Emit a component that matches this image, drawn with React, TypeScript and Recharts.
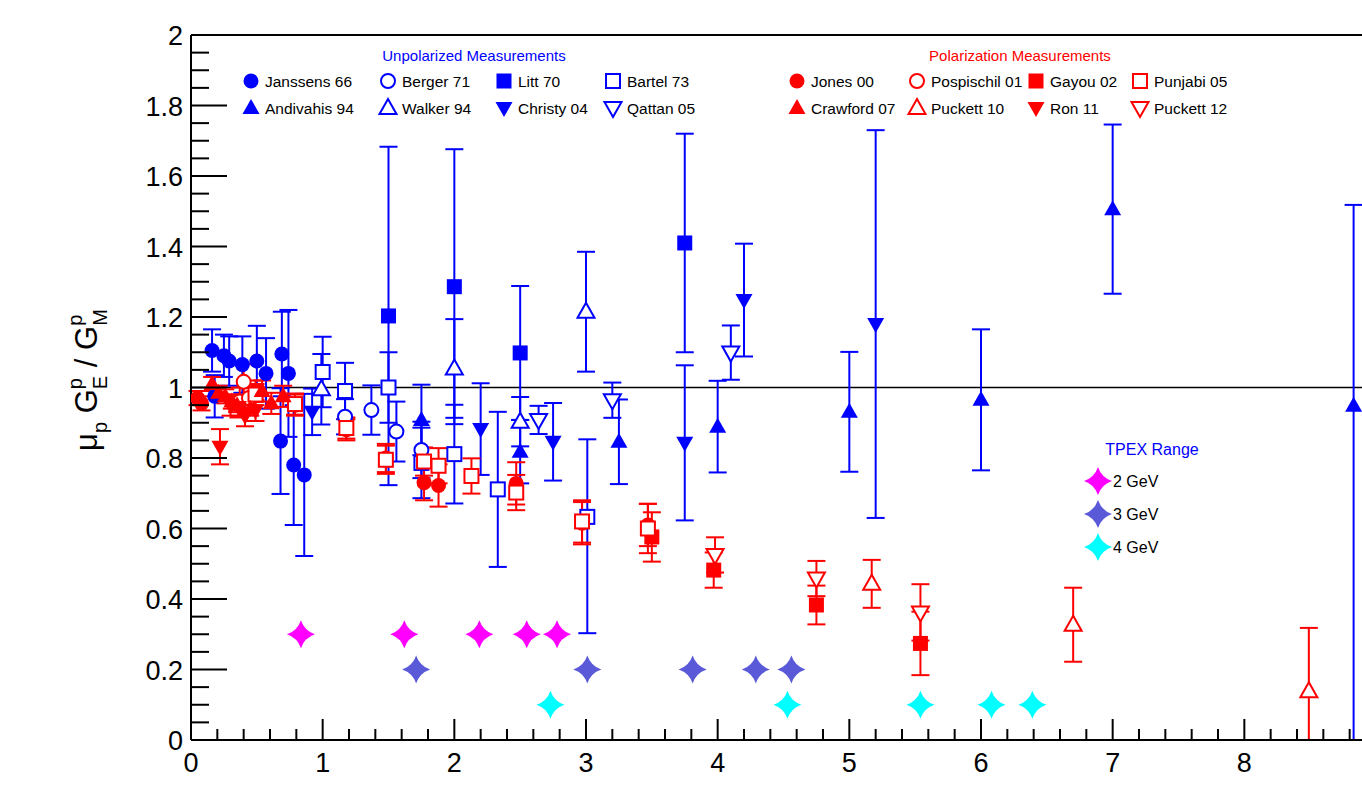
import React from 'react';
import { ScatterChart, Scatter, XAxis, YAxis, ErrorBar, ReferenceLine } from 'recharts';

// [Q2, ratio, error]  (error may be [down, up])
const janssens66 = [
  [0.16, 1.105, 0.06], [0.18, 0.975, 0.06], [0.25, 1.09, 0.06], [0.29, 1.075, 0.07],
  [0.39, 1.065, 0.08], [0.5, 1.075, 0.1], [0.57, 1.04, 0.1], [0.69, 1.095, 0.12],
  [0.74, 1.04, 0.18], [0.68, 0.848, 0.15], [0.78, 0.78, 0.17], [0.86, 0.752, 0.23],
];
const berger71 = [[1.17, 0.917, 0.05], [1.37, 0.936, 0.07], [1.56, 0.875, 0.085], [1.75, 0.823, 0.08]];
const litt70 = [[1.5, 1.203, 0.48], [2.0, 1.286, 0.39], [2.5, 1.098, 0.19], [3.75, 1.41, 0.31]];
const bartel73 = [
  [1.0, 1.044, 0.1], [1.17, 0.99, 0.08], [1.5, 1.0, 0.1], [1.75, 0.786, 0.1],
  [2.0, 0.811, 0.14], [2.33, 0.711, 0.22], [3.01, 0.633, [0.33, 0.22]],
];
const andivahis94 = [
  [1.75, 0.908, 0.1], [2.5, 0.818, 0.09], [3.25, 0.846, 0.12], [4.0, 0.889, 0.13],
  [5.0, 0.931, 0.17], [6.0, 0.965, 0.2], [7.0, 1.506, 0.24], [8.83, 0.948, [0.948, 0.57]],
];
const walker94 = [[0.99, 0.995, 0.1], [2.0, 1.054, 0.14], [2.5, 0.903, 0.07], [3.0, 1.215, 0.17]];
const christy04 = [
  [0.92, 0.931, 0.066], [2.2, 0.882, 0.13], [2.75, 0.846, 0.11],
  [3.75, 0.843, 0.22], [4.2, 1.248, 0.16], [5.2, 1.18, 0.55],
];
const qattan05 = [[2.64, 0.908, 0.04], [3.2, 0.964, 0.05], [4.1, 1.099, 0.077]];

const jones00 = [
  [0.05, 0.97, 0.02], [0.08, 0.955, 0.02], [0.49, 0.99, 0.03], [0.79, 0.95, 0.03],
  [1.18, 0.88, 0.03], [1.48, 0.8, 0.04], [1.77, 0.73, 0.05], [1.88, 0.722, 0.06],
  [2.47, 0.728, 0.06], [2.97, 0.615, 0.06], [3.47, 0.61, 0.06],
];
const pospischil01 = [[0.37, 0.96, 0.04], [0.4, 1.016, 0.05], [0.44, 0.97, 0.04]];
const gayou02 = [[3.5, 0.576, 0.07], [3.97, 0.482, 0.05], [4.75, 0.383, 0.055], [5.54, 0.274, 0.09]];
const punjabi05 = [
  [0.49, 0.98, 0.03], [0.79, 0.953, 0.03], [1.18, 0.885, 0.03], [1.48, 0.795, 0.04],
  [1.77, 0.79, 0.04], [1.88, 0.778, 0.05], [2.13, 0.749, 0.05], [2.47, 0.702, 0.05],
  [2.97, 0.62, 0.06], [3.47, 0.6, 0.07],
];
const crawford07 = [
  [0.16, 1.01, 0.02], [0.21, 0.985, 0.02], [0.26, 0.975, 0.02], [0.31, 0.96, 0.02],
  [0.35, 0.95, 0.02], [0.45, 0.94, 0.02], [0.54, 0.99, 0.03], [0.61, 0.955, 0.03], [0.7, 0.975, 0.03],
];
const ron11 = [[0.22, 0.832, 0.05], [0.3, 0.95, 0.03], [0.36, 0.945, 0.03], [0.41, 0.92, 0.03], [0.49, 0.935, 0.03]];
const puckett10 = [[5.17, 0.443, 0.068], [6.7, 0.327, 0.105], [8.49, 0.138, [0.138, 0.18]]];
const puckett12 = [[3.98, 0.525, 0.05], [4.75, 0.458, 0.05], [5.54, 0.362, 0.08]];

// TPEX range points [Q2, level]
const tpex2 = [[0.835, 0.3], [1.62, 0.3], [2.19, 0.3], [2.55, 0.3], [2.78, 0.3]];
const tpex3 = [[1.71, 0.2], [3.01, 0.2], [3.81, 0.2], [4.29, 0.2], [4.56, 0.2]];
const tpex4 = [[2.73, 0.1], [4.53, 0.1], [5.54, 0.1], [6.08, 0.1], [6.39, 0.1]];

const xMajor = [0, 1, 2, 3, 4, 5, 6, 7, 8, 9];
const yMajor = [0, 0.2, 0.4, 0.6, 0.8, 1, 1.2, 1.4, 1.6, 1.8, 2];

const BLUE = '#0000ff';
const RED = '#ff0000';
const FONT = '"Liberation Sans", Arial, Helvetica, sans-serif';

// minor ticks between the labelled ones (the 9 is off the picture)
const xTicks: number[] = [];
xMajor.slice(0, -1).forEach((m) => [0, 0.2, 0.4, 0.6, 0.8].forEach((f) => xTicks.push(Math.round((m + f) * 100) / 100)));
const yTicks: number[] = [];
yMajor.slice(0, -1).forEach((m) => [0, 0.05, 0.1, 0.15].forEach((f) => yTicks.push(Math.round((m + f) * 100) / 100)));
yTicks.push(2);

const series = [
  { name: 'Janssens 66', data: janssens66, color: BLUE, kind: 'circle' },
  { name: 'Berger 71', data: berger71, color: BLUE, kind: 'circleOpen' },
  { name: 'Litt 70', data: litt70, color: BLUE, kind: 'square' },
  { name: 'Bartel 73', data: bartel73, color: BLUE, kind: 'squareOpen' },
  { name: 'Andivahis 94', data: andivahis94, color: BLUE, kind: 'tri' },
  { name: 'Walker 94', data: walker94, color: BLUE, kind: 'triOpen' },
  { name: 'Christy 04', data: christy04, color: BLUE, kind: 'triDown' },
  { name: 'Qattan 05', data: qattan05, color: BLUE, kind: 'triDownOpen' },
  { name: 'Jones 00', data: jones00, color: RED, kind: 'circle' },
  { name: 'Pospischil 01', data: pospischil01, color: RED, kind: 'circleOpen' },
  { name: 'Gayou 02', data: gayou02, color: RED, kind: 'square' },
  { name: 'Punjabi 05', data: punjabi05, color: RED, kind: 'squareOpen' },
  { name: 'Crawford 07', data: crawford07, color: RED, kind: 'tri' },
  { name: 'Puckett 10', data: puckett10, color: RED, kind: 'triOpen' },
  { name: 'Ron 11', data: ron11, color: RED, kind: 'triDown' },
  { name: 'Puckett 12', data: puckett12, color: RED, kind: 'triDownOpen' },
];

const tpex = [
  { name: '2 GeV', data: tpex2, color: '#ff00ff' },
  { name: '3 GeV', data: tpex3, color: '#5a5ad8' },
  { name: '4 GeV', data: tpex4, color: '#00ffff' },
];

function Marker({ cx, cy, kind, color }: any) {
  if (cx == null || cy == null) return null;
  switch (kind) {
    case 'circle':
      return <circle cx={cx} cy={cy} r={7.5} fill={color} />;
    case 'circleOpen':
      return <circle cx={cx} cy={cy} r={7} fill="#fff" stroke={color} strokeWidth={2} />;
    case 'square':
      return <rect x={cx - 7.5} y={cy - 7.5} width={15} height={15} fill={color} />;
    case 'squareOpen':
      return <rect x={cx - 7} y={cy - 7} width={14} height={14} fill="#fff" stroke={color} strokeWidth={2} />;
    case 'tri':
      return <polygon points={`${cx},${cy - 9} ${cx + 8.5},${cy + 6} ${cx - 8.5},${cy + 6}`} fill={color} />;
    case 'triOpen':
      return <polygon points={`${cx},${cy - 9} ${cx + 8.5},${cy + 6} ${cx - 8.5},${cy + 6}`} fill="#fff" stroke={color} strokeWidth={2} />;
    case 'triDown':
      return <polygon points={`${cx},${cy + 9} ${cx + 8.5},${cy - 6} ${cx - 8.5},${cy - 6}`} fill={color} />;
    case 'triDownOpen':
      return <polygon points={`${cx},${cy + 9} ${cx + 8.5},${cy - 6} ${cx - 8.5},${cy - 6}`} fill="#fff" stroke={color} strokeWidth={2} />;
    case 'star': {
      const r = 14;
      const q = 3.5;
      const d = `M${cx},${cy - r} Q${cx + q},${cy - q} ${cx + r},${cy} Q${cx + q},${cy + q} ${cx},${cy + r} Q${cx - q},${cy + q} ${cx - r},${cy} Q${cx - q},${cy - q} ${cx},${cy - r} Z`;
      return <path d={d} fill={color} />;
    }
    default:
      return null;
  }
}

const XTick = ({ x, y, payload }: any) => {
  const v = payload.value;
  const major = Math.abs(v - Math.round(v)) < 1e-6;
  return (
    <g>
      <line x1={x} x2={x} y1={y} y2={y - (major ? 21 : 11)} stroke="#000" strokeWidth={2} />
      {major && (
        <text x={x} y={y + 32} textAnchor="middle" fontSize={27} fontFamily={FONT} fill="#000">
          {Math.round(v)}
        </text>
      )}
    </g>
  );
};

const YTick = ({ x, y, payload }: any) => {
  const v = payload.value;
  const major = Math.abs(v * 5 - Math.round(v * 5)) < 1e-6;
  return (
    <g>
      <line x1={x} x2={x + (major ? 36 : 18)} y1={y} y2={y} stroke="#000" strokeWidth={2} />
      {major && (
        <text x={x - 8} y={y + 10} textAnchor="end" fontSize={27} fontFamily={FONT} fill="#000">
          {String(Number(v.toFixed(1)))}
        </text>
      )}
    </g>
  );
};

const toRows = (arr: any[]) => arr.map((p) => ({ x: p[0], y: p[1], e: p[2] }));

function LegendLayer() {
  const cols = [251, 388, 504, 613];
  const colsPol = [797, 917, 1036, 1140];
  const rowY = [81, 108];
  const item = (s: any, mx: number, my: number, key: string) => (
    <g key={key}>
      <Marker cx={mx} cy={my} kind={s.kind} color={s.color} />
      <text x={mx + 14} y={my + 5.5} fontSize={15.5} fontFamily={FONT} fill="#000">
        {s.name}
      </text>
    </g>
  );
  const unpol = series.slice(0, 8);
  const pol = series.slice(8);
  return (
    <svg width={1362} height={790} style={{ position: 'absolute', left: 0, top: 0, pointerEvents: 'none' }}>
      <text x={474} y={61} textAnchor="middle" fontSize={15} fontFamily={FONT} fill={BLUE}>
        Unpolarized Measurements
      </text>
      <text x={1020} y={61} textAnchor="middle" fontSize={15} fontFamily={FONT} fill={RED}>
        Polarization Measurements
      </text>
      {unpol.map((s, i) => item(s, cols[i % 4], rowY[Math.floor(i / 4)], 'u' + i))}
      {pol.map((s, i) => item(s, colsPol[i % 4], rowY[Math.floor(i / 4)], 'p' + i))}
      <text x={1152} y={455} textAnchor="middle" fontSize={16} fontFamily={FONT} fill={BLUE}>
        TPEX Range
      </text>
      {tpex.map((t, i) => (
        <g key={t.name}>
          <Marker cx={1098} cy={481 + i * 33} kind="star" color={t.color} />
          <text x={1113} y={487 + i * 33} fontSize={16} fontFamily={FONT} fill="#000">
            {t.name}
          </text>
        </g>
      ))}
      <text
        x={97}
        y={380}
        transform="rotate(-90 97 380)"
        textAnchor="middle"
        fontSize={31}
        fontFamily={FONT}
        fill="#000"
      >
        <tspan>μ</tspan>
        <tspan fontSize={20} dy={10}>p</tspan>
        <tspan dy={-10}> G</tspan>
        <tspan fontSize={20} dy={-15}>p</tspan>
        <tspan fontSize={20} dx={-11} dy={25}>E</tspan>
        <tspan dy={-10}> / G</tspan>
        <tspan fontSize={20} dy={-15}>p</tspan>
        <tspan fontSize={20} dx={-11} dy={25}>M</tspan>
      </text>
    </svg>
  );
}

export default function App() {
  return (
    <div
      style={{
        position: 'fixed',
        left: 0,
        top: 0,
        width: 1362,
        height: 790,
        overflow: 'hidden',
        background: '#fff',
      }}
    >
      <ScatterChart width={1420} height={790} margin={{ top: 35, right: 44, bottom: 30, left: 171 }}>
        <XAxis
          type="number"
          dataKey="x"
          domain={[0, 9]}
          ticks={xTicks}
          interval={0}
          allowDataOverflow
          height={20}
          tickSize={0}
          tickMargin={0}
          tickLine={false}
          tick={<XTick />}
          axisLine={{ stroke: '#000', strokeWidth: 2 }}
        />
        <YAxis
          type="number"
          dataKey="y"
          domain={[0, 2]}
          ticks={yTicks}
          interval={0}
          allowDataOverflow
          width={20}
          tickSize={0}
          tickMargin={0}
          tickLine={false}
          tick={<YTick />}
          axisLine={{ stroke: '#000', strokeWidth: 2 }}
        />
        <ReferenceLine y={2} stroke="#000" strokeWidth={2} />
        <ReferenceLine y={1} stroke="#000" strokeWidth={1.5} />
        {series.map((s) => (
          <Scatter
            key={s.name}
            name={s.name}
            data={toRows(s.data)}
            isAnimationActive={false}
            shape={(p: any) => <Marker cx={p.cx} cy={p.cy} kind={s.kind} color={s.color} />}
          >
            <ErrorBar dataKey="e" direction="y" stroke={s.color} strokeWidth={2} width={9} />
          </Scatter>
        ))}
        {tpex.map((t) => (
          <Scatter
            key={t.name}
            name={t.name}
            data={t.data.map((p) => ({ x: p[0], y: p[1] }))}
            isAnimationActive={false}
            shape={(p: any) => <Marker cx={p.cx} cy={p.cy} kind="star" color={t.color} />}
          />
        ))}
      </ScatterChart>
      <LegendLayer />
    </div>
  );
}
